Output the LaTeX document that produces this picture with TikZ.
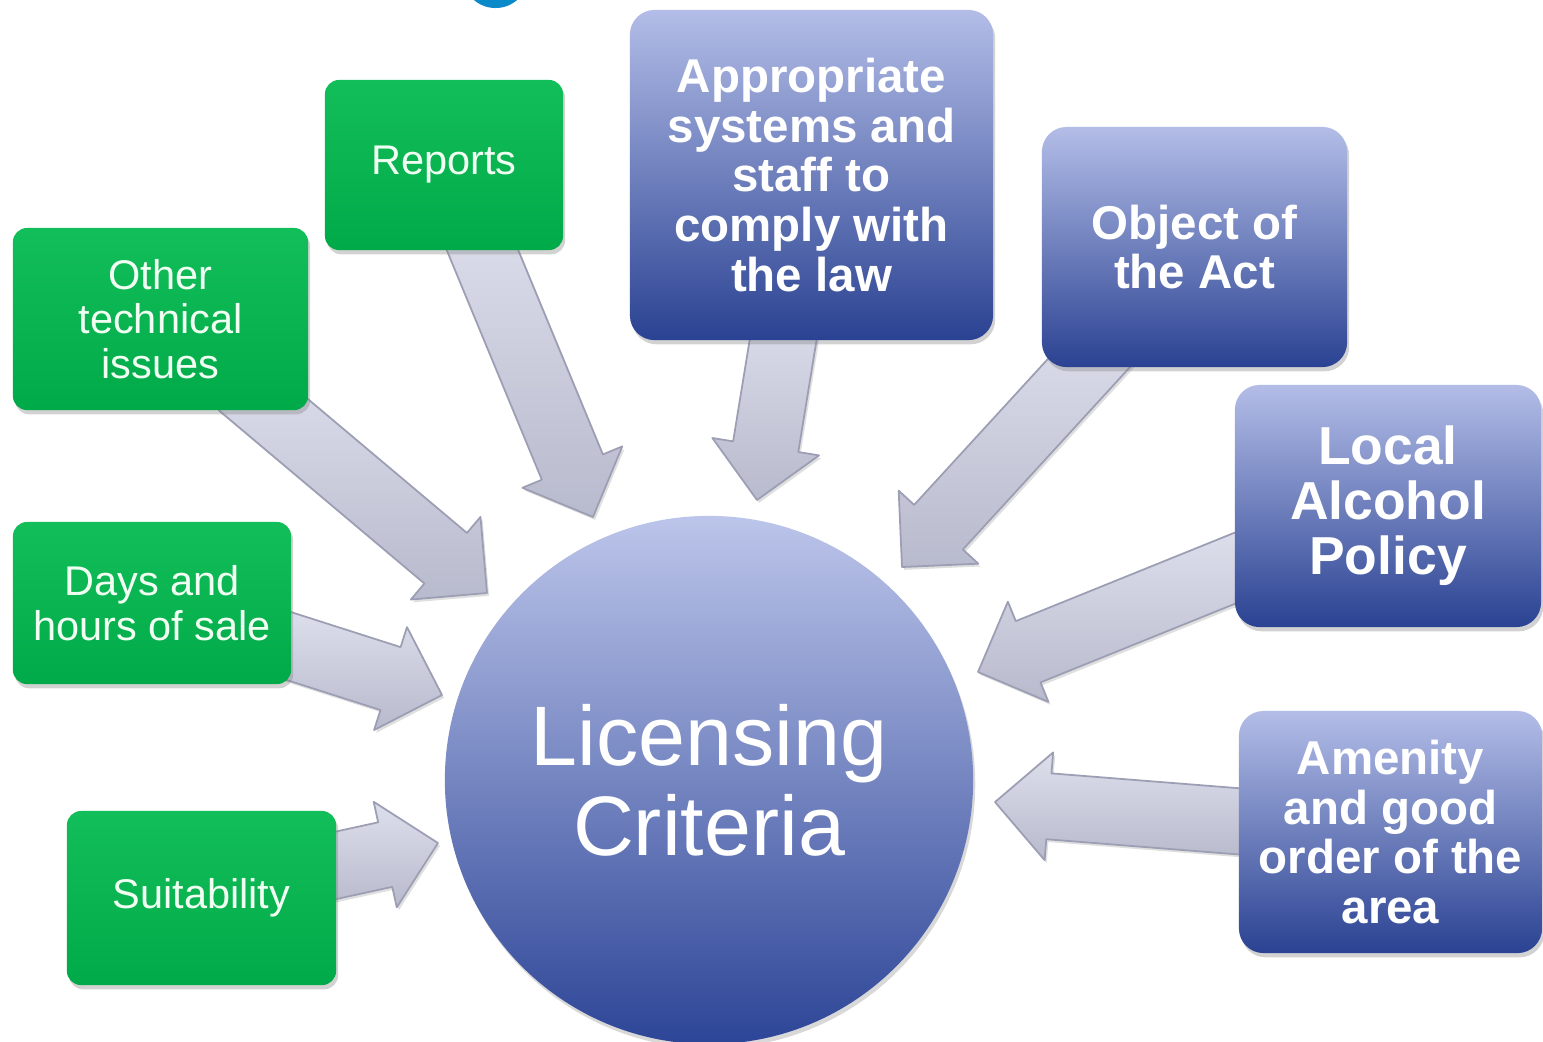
\documentclass[tikz,border=0pt]{standalone}
\usepackage{fontspec}
\setmainfont{Liberation Sans}
\usetikzlibrary{calc,shadows}
\definecolor{grntop}{HTML}{12BE5A}
\definecolor{grnbot}{HTML}{00AA48}
\definecolor{bluetop}{HTML}{B3BDE7}
\definecolor{bluebot}{HTML}{2A4292}
\definecolor{circtop}{HTML}{BCC5EA}
\definecolor{circbot}{HTML}{2D4597}
\definecolor{arrtop}{HTML}{DDDFEC}
\definecolor{arrbot}{HTML}{B8BACD}
\definecolor{arredge}{HTML}{9C9EB4}
\definecolor{blob}{HTML}{0A8AC8}
\definecolor{grntext}{HTML}{F0FFF2}
\newcommand\blockarrow[2]{%
  \coordinate (#2-base) at ($(#2)!0.54cm!(#1)$);
  \path[arrowbody] ($(#1)!0.33cm!90:(#2)$) -- ($(#2-base)!0.33cm!90:(#2)$)
    -- ($(#2-base)!0.54cm!90:(#2)$) -- (#2) -- ($(#2-base)!0.54cm!-90:(#2)$)
    -- ($(#2-base)!0.33cm!-90:(#2)$) -- ($(#1)!0.33cm!-90:(#2)$) -- cycle;
}
\begin{document}
\begin{tikzpicture}[x=0.01cm,y=-0.01cm,
  arrowbody/.style={top color=arrtop, bottom color=arrbot, draw=arredge, line width=0.5pt,
    line join=round, drop shadow={shadow xshift=0.6pt, shadow yshift=-0.8pt, opacity=0.25}},
  greenbox/.style={rectangle, rounded corners=4pt, top color=grntop, bottom color=grnbot,
    draw=none, text=grntext, align=center,
    font=\fontsize{11.8pt}{12.66pt}\selectfont,
    drop shadow={shadow xshift=0.6pt, shadow yshift=-1.2pt, opacity=0.35}},
  bluebox/.style={rectangle, rounded corners=7pt, top color=bluetop, bottom color=bluebot,
    draw=none, text=white, align=center,
    font=\fontsize{13.5pt}{14.2pt}\selectfont\bfseries,
    drop shadow={shadow xshift=0.6pt, shadow yshift=-1.2pt, opacity=0.35}},
]
\useasboundingbox (0,0) rectangle (1543,1041);
\fill[white] (0,0) rectangle (1543,1041);
\begin{scope}
  \clip (0,0) rectangle (1543,1041);
  \fill[blob] (495.5,-25) circle[radius=0.33cm];
\end{scope}

% arrow end points
\coordinate (rep-s) at (470,220);   \coordinate (rep-t) at (593,517);
\coordinate (oth-s) at (240,385);   \coordinate (oth-t) at (487,593);
\coordinate (days-s) at (270,640);  \coordinate (days-t) at (442,695);
\coordinate (suit-s) at (310,871);  \coordinate (suit-t) at (438,843);
\coordinate (appr-s) at (788,310);  \coordinate (appr-t) at (757,500);
\coordinate (obj-s) at (1110,340);  \coordinate (obj-t) at (902,567);
\coordinate (loc-s) at (1260,558);  \coordinate (loc-t) at (978,672);
\coordinate (amen-s) at (1260,823); \coordinate (amen-t) at (995,802);

\blockarrow{rep-s}{rep-t}
\blockarrow{oth-s}{oth-t}
\blockarrow{days-s}{days-t}
\blockarrow{suit-s}{suit-t}
\blockarrow{appr-s}{appr-t}
\blockarrow{obj-s}{obj-t}
\blockarrow{loc-s}{loc-t}
\blockarrow{amen-s}{amen-t}

% green boxes
\node[greenbox, minimum width=2.38cm, minimum height=1.70cm] (rep) at (444,165) {Reports};
\node[greenbox, minimum width=2.95cm, minimum height=1.82cm] (oth) at (160.5,319) {Other\\technical\\issues};
\node[greenbox, minimum width=2.78cm, minimum height=1.62cm] (days) at (152,603) {Days and\\hours of sale};
\node[greenbox, minimum width=2.69cm, minimum height=1.74cm] (suit) at (201.5,898) {Suitability};

% blue boxes
\node[bluebox, minimum width=3.63cm, minimum height=3.30cm] (appr) at (811.5,175)
  {Appropriate\\systems and\\staff to\\comply with\\the law};
\node[bluebox, minimum width=3.05cm, minimum height=2.40cm] (obj) at (1194.5,247)
  {Object of\\the Act};
\node[bluebox, minimum width=3.06cm, minimum height=2.42cm,
  font=\fontsize{15.2pt}{15.65pt}\selectfont\bfseries] (loc) at (1388,506)
  {Local\\Alcohol\\Policy};
\node[bluebox, minimum width=3.03cm, minimum height=2.42cm] (amen) at (1390.5,832)
  {Amenity\\and good\\order of the\\area};

% centre
\node[circle, minimum size=5.28cm, inner sep=0pt, top color=circtop, bottom color=circbot,
  text=white, align=center, font=\fontsize{24pt}{25.6pt}\selectfont,
  drop shadow={shadow xshift=0.6pt, shadow yshift=-1.2pt, opacity=0.3}] (lc) at (709,780)
  {Licensing\\Criteria};
\end{tikzpicture}
\end{document}
